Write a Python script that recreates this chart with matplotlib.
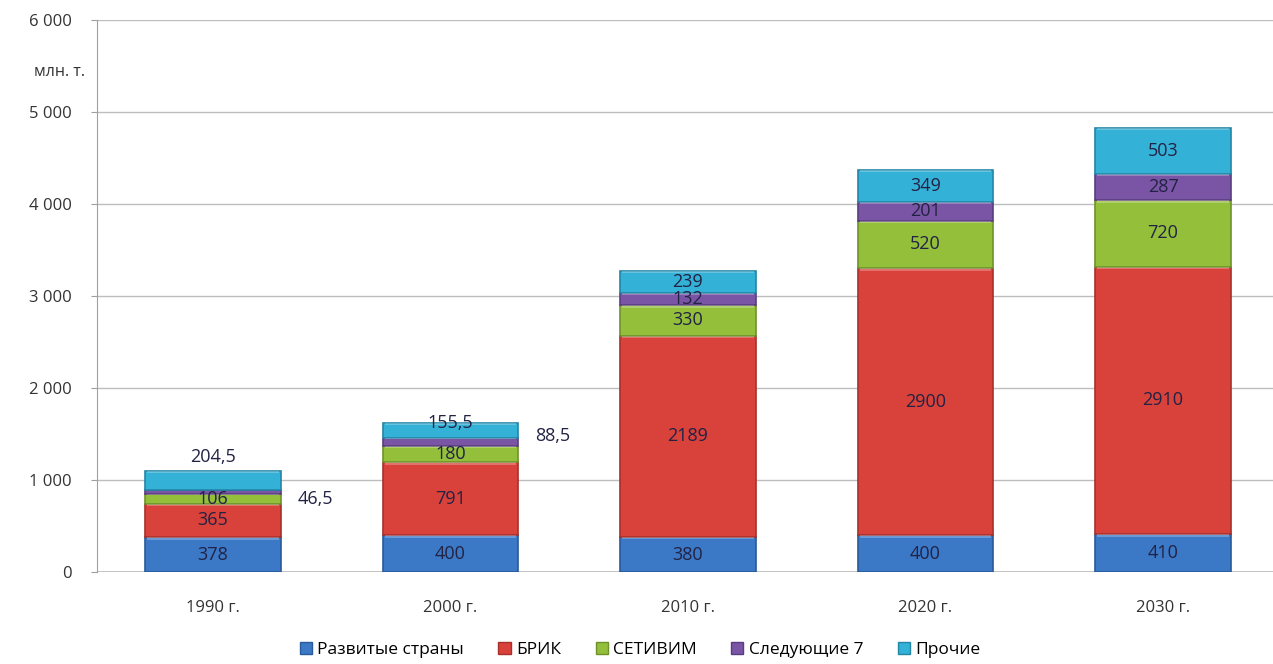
import numpy as np
import matplotlib.pyplot as plt
from matplotlib.patches import Patch

plt.rcParams['font.family'] = ['Open Sans', 'DejaVu Sans']

# -----------------------------
# Data
# -----------------------------
years = ["1990 г.", "2000 г.", "2010 г.", "2020 г.", "2030 г."]
series_names = ["Развитые страны", "БРИК", "СЕТИВИМ", "Следующие 7", "Прочие"]
developed = [378, 400, 380, 400, 410]
bric = [365, 791, 2189, 2900, 2910]
cetivim = [106, 180, 330, 520, 720]
next7 = [46.5, 88.5, 132, 201, 287]
others = [204.5, 155.5, 239, 349, 503]

colors = ["#3b78c6", "#d8423b", "#93bf3b", "#7a55a6", "#34b1d6"]
edges = ["#2a5a9a", "#a8302b", "#6e9229", "#5a3d80", "#2386a6"]
yticks = [0, 1000, 2000, 3000, 4000, 5000, 6000]


def fmt(v):
    if float(v).is_integer():
        return str(int(v))
    return str(v).replace(".", ",")


fig = plt.figure(figsize=(12.73, 6.64), dpi=100)
ax = fig.add_axes([97 / 1273, 92 / 664, 1 - 97 / 1273, 552 / 664])

x = np.arange(len(years))
width = 0.57
data = [developed, bric, cetivim, next7, others]
bottom = np.zeros(len(years))

ax.axhline(0, color="#bdbdbd", linewidth=1.2, zorder=1)

for i, vals in enumerate(data):
    vals = np.array(vals, dtype=float)
    ax.bar(x, vals, width, bottom=bottom, color=colors[i],
           edgecolor=edges[i], linewidth=1.2, zorder=3)
    # light highlight strip at top of each segment
    hl = np.minimum(vals * 0.12, 25)
    ax.bar(x, hl, width * 0.97, bottom=bottom + vals - hl,
           color="white", alpha=0.25, linewidth=0, zorder=4)
    for j, v in enumerate(vals):
        cx = x[j]
        cy = bottom[j] + v / 2
        ha = "center"
        # small segments of first two bars are labelled outside
        if j == 0 and i == 3:
            cx, cy, ha = x[j] + width / 2 + 0.07, bottom[j] + v / 2 - 80, "left"
        elif j == 0 and i == 4:
            cy = bottom[j] + v + 150
        elif j == 1 and i == 3:
            cx, cy, ha = x[j] + width / 2 + 0.07, bottom[j] + v / 2 + 60, "left"
        elif j == 1 and i == 4:
            cy = bottom[j] + v + 10
        ax.text(cx, cy, fmt(v), ha=ha, va="center", fontsize=13,
                color="#222244", zorder=5)
    bottom += vals

ax.set_xlim(-0.488, 4.463)
ax.set_ylim(0, 6000)
ax.set_xticks(x)
ax.set_xticklabels(years, fontsize=12, color="#333333")
ax.set_yticks(yticks)
ax.set_yticklabels([f"{t:,}".replace(",", " ") for t in yticks],
                   fontsize=12, color="#333333")
ax.tick_params(axis="x", length=0, pad=20)
ax.tick_params(axis="y", length=4, color="#a0a0a0", pad=14)
ax.yaxis.grid(True, color="#bdbdbd", linewidth=1, zorder=0)
for s in ["top", "right", "bottom"]:
    ax.spines[s].set_visible(False)
ax.spines["left"].set_color("#a0a0a0")

fig.text(60 / 1273, 1 - 72 / 664, "млн. т.", ha="center", va="center",
         fontsize=11.5, color="#333333")

handles = [Patch(facecolor=colors[i], edgecolor=edges[i]) for i in range(5)]
fig.legend(handles, series_names, loc="center", bbox_to_anchor=(640 / 1273, 14 / 664),
           ncol=5, frameon=False, fontsize=12.5, handlelength=0.7, handleheight=0.7,
           handletextpad=0.3, columnspacing=2.0)

fig.savefig("out.png", dpi=100)
